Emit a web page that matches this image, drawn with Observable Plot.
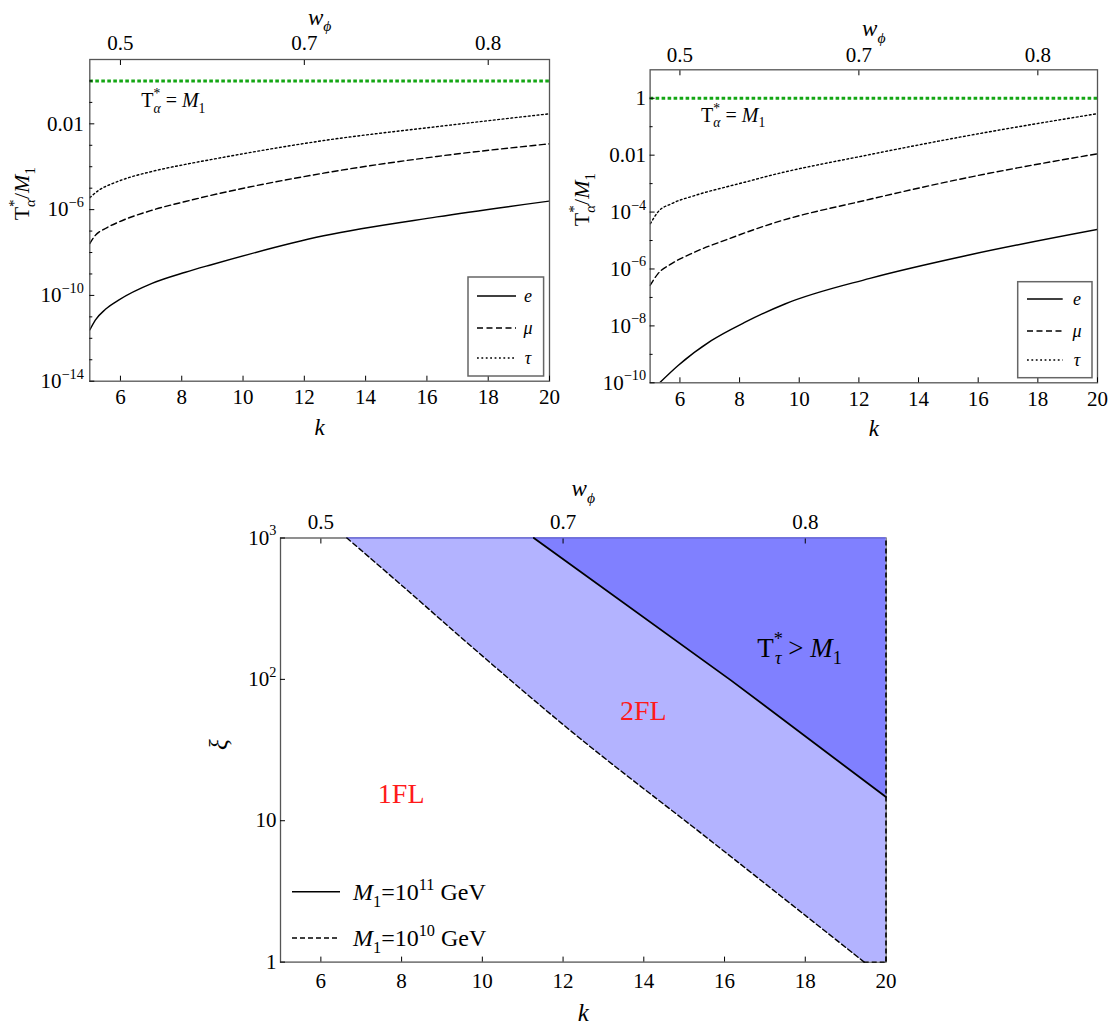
<!DOCTYPE html>
<html><head><meta charset="utf-8">
<script src="https://cdn.jsdelivr.net/npm/d3@7"></script>
<script src="https://cdn.jsdelivr.net/npm/@observablehq/plot@0.6"></script>
<style>
body{margin:0;background:#fff;}
#root{position:relative;width:1115px;height:1028px;overflow:hidden;background:#fff;font-family:"Liberation Serif",serif;}
</style></head><body><div id="root"></div>
<script>
// ---------- data ----------
const kTicks = [6, 8, 10, 12, 14, 16, 18, 20];
const wTickK = [6, 12, 18];
const wTickLabels = ["0.5", "0.7", "0.8"];
const ratioOne = [1];

// top-left panel (T*/M1 vs k)
const tlKTau = [5.0, 5.29, 5.73, 6.16, 7.03, 8.12, 8.94, 12.63, 16.33, 20];
const tlTau  = [3.63e-6, 7.94e-6, 1.62e-5, 2.75e-5, 6.03e-5, 1.29e-4, 2.14e-4, 1.66e-3, 7.41e-3, 2.95e-2];
const tlK    = [5.0, 5.18, 5.51, 5.94, 7.03, 8.12, 8.94, 12.63, 16.33, 20];
const tlMu   = [2.63e-8, 6.31e-8, 1.32e-7, 2.63e-7, 9.33e-7, 2.40e-6, 4.57e-6, 5.01e-5, 3.02e-4, 1.17e-3];
const tlE    = [2.45e-12, 7.08e-12, 2.24e-11, 6.03e-11, 3.63e-10, 1.20e-9, 2.63e-9, 6.03e-8, 4.57e-7, 2.51e-6];
const tlYMajor = [1e-2, 1e-6, 1e-10, 1e-14];
const tlYMajorLabels = ["0.01", "10^−6", "10^−10", "10^−14"];
const tlYMinor = [1, 1e-1, 1e-3, 1e-4, 1e-5, 1e-7, 1e-8, 1e-9, 1e-11, 1e-12, 1e-13];

// top-right panel
const trKTau = [5.01, 5.26, 5.71, 6.49, 7.61, 8.17, 9.01, 12.37, 15.73, 20];
const trTau  = [3.89e-5, 1.0e-4, 1.95e-4, 3.80e-4, 7.94e-4, 1.12e-3, 1.91e-3, 1.05e-2, 5.01e-2, 0.288];
const trKMu  = [5.0, 5.26, 5.71, 6.49, 7.61, 9.1, 12.37, 15.73, 20];
const trMu   = [2.63e-7, 6.76e-7, 1.51e-6, 3.89e-6, 1.12e-5, 3.98e-5, 2.82e-4, 1.70e-3, 1.12e-2];
const trKE   = [5.32, 5.93, 7.05, 8.17, 9.52, 12.37, 15.73, 20];
const trE    = [1.0e-10, 3.98e-10, 3.02e-9, 1.32e-8, 5.89e-8, 4.68e-7, 3.16e-6, 2.45e-5];
const trYMajor = [1, 1e-2, 1e-4, 1e-6, 1e-8, 1e-10];
const trYMajorLabels = ["1", "0.01", "10^−4", "10^−6", "10^−8", "10^−10"];
const trYMinor = [1e-1, 1e-3, 1e-5, 1e-7, 1e-9];

// bottom panel (xi vs k)
const bKDomain = [5, 20];
const bXiDomain = [1, 1000];
const bK10 = [6.645, 8.05, 10.03, 12.43, 15.74, 19.46];   // M1 = 1e10 GeV boundary
const bXi10 = [1000, 450, 144, 38.0, 6.92, 1];
const bK11 = [11.275, 16.16, 20];                          // M1 = 1e11 GeV boundary
const bXi11 = [1000, 98.4, 14.7];
const bYMajor = [1, 10, 100, 1000];
const bYMajorLabels = ["1", "10", "10^2", "10^3"];

// ---------- helpers ----------
const FONT = "Liberation Serif";
const FRAME = "#555";
const GREEN = "#14a614";
const TICKFS = 21;
const STYLE = `font-family: '${FONT}', serif; font-size: ${TICKFS}px; color: black; background: white; overflow: visible;`;
const F = {fontFamily: FONT};

const RICH = {
  "@wphi": {fs: 23, parts: [["w","i"],["ϕ","isub"]]},
  "@ylab": {fs: 22, parts: [["T",""],["*","sup"],["α","isub",-0.34],["/",""],["M","i"],["1","sub"]]},
  "@Teq":  {fs: 20, parts: [["T",""],["*","sup"],["α","isub",-0.34],[" = ",""],["M","i"],["1","sub"]]},
  "@Tgt":  {fs: 27, parts: [["T",""],["*","sup"],["τ","isub",-0.30],[" > ",""],["M","i"],["1","sub"]]},
  "@M11":  {fs: 24, parts: [["M","i"],["1","sub"],["=10",""],["11","sup"],[" GeV",""]]},
  "@M10":  {fs: 24, parts: [["M","i"],["1","sub"],["=10",""],["10","sup"],[" GeV",""]]}
};

function buildRich(node, parts, fs) {
  const sel = d3.select(node);
  sel.text(null);
  let cur = 0;
  for (const [str, kind, back] of parts) {
    let off = 0, size = fs;
    if (kind.includes("sup")) { off = -0.44 * fs; size = 0.68 * fs; }
    if (kind.includes("sub")) { off = 0.28 * fs; size = 0.68 * fs; }
    const ts = sel.append("tspan").text(str).attr("font-size", size).attr("font-family", FONT);
    if (kind.startsWith("i")) ts.attr("font-style", "italic");
    if (off !== cur) { ts.attr("dy", off - cur); cur = off; }
    if (back) ts.attr("dx", back * fs);
  }
}

function richify(svg) {
  d3.select(svg).selectAll("text").each(function() {
    const t = this.textContent;
    const m = /^10\^(.+)$/.exec(t);
    if (m) buildRich(this, [["10",""],[m[1],"sup"]], TICKFS);
    else if (RICH[t]) buildRich(this, RICH[t].parts, RICH[t].fs);
  });
}

const root = document.getElementById("root");
function place(svg, left, top) {
  svg.style.position = "absolute";
  svg.style.left = left + "px";
  svg.style.top = top + "px";
  svg.style.maxWidth = "none";
  svg.style.overflow = "visible";
  root.appendChild(svg);
}

const NOLAB = {label: null, tickFormat: () => ""};
const TL = {...F, fontSize: TICKFS, lineAnchor: "middle"};

// tick marks (inward) + tick labels drawn as text marks
function tickMarks(o) {
  return [
    Plot.axisX({...NOLAB, anchor: "bottom", ticks: kTicks, tickSize: -5}),
    Plot.axisX({...NOLAB, anchor: "top", ticks: wTickK, tickSize: -5}),
    Plot.axisY({...NOLAB, anchor: "left", ticks: o.yMajor, tickSize: -5}),
    ...(o.yMinor ? [Plot.axisY({...NOLAB, anchor: "left", ticks: o.yMinor, tickSize: -3})] : []),
    Plot.text(kTicks, {...TL, x: d => d, frameAnchor: "bottom", dy: o.bdy, text: d => String(d)}),
    Plot.text(wTickK, {...TL, x: d => d, frameAnchor: "top", dy: o.tdy, text: (d, i) => wTickLabels[i]}),
    Plot.text(o.yMajor, {...TL, y: d => d, frameAnchor: "left", dx: o.ldx, textAnchor: "end", text: (d, i) => o.yMajorLabels[i]})
  ];
}

function topPanel(o) {
  const series = [
    {k: o.kE, v: o.e, dash: null},
    {k: o.kMu, v: o.mu, dash: "6,3.5"},
    {k: o.kTau, v: o.tau, dash: "1.8,2.6"}
  ];
  const svg = Plot.plot({
    width: o.width, height: o.height,
    marginLeft: o.ml, marginRight: o.mr, marginTop: o.mt, marginBottom: o.mb,
    x: {domain: [5, 20]},
    y: {type: "log", domain: o.yDomain},
    style: STYLE,
    marks: [
      Plot.ruleY(ratioOne, {stroke: GREEN, strokeWidth: 3, strokeDasharray: "3.6,2.4"}),
      ...series.map(s => Plot.line(s.k.map((k, i) => ({k, v: s.v[i]})), {
        x: "k", y: "v", stroke: "black", strokeWidth: 1.4, strokeDasharray: s.dash, curve: "monotone-x", clip: true
      })),
      Plot.frame({stroke: FRAME, strokeWidth: 1.3}),
      ...tickMarks(o),
      Plot.text([o.teq], {...F, x: "k", y: "v", text: () => "@Teq", textAnchor: "start", lineAnchor: "middle", fontSize: 20}),
      Plot.text(["k"], {...F, frameAnchor: "bottom", dy: 46, text: d => d, fontStyle: "italic", fontSize: 23, lineAnchor: "middle"}),
      Plot.text(["@wphi"], {...F, frameAnchor: "top", dy: o.wdy, text: d => d, fontSize: 23, lineAnchor: "middle"}),
      Plot.text(["@ylab"], {...F, frameAnchor: "left", dx: -68, text: d => d, rotate: -90, fontSize: 22, lineAnchor: "middle"})
    ]
  });
  richify(svg);
  return svg;
}

// top-left
place(topPanel({
  width: 560, height: 450, ml: 89.3, mr: 11, mt: 59, mb: 69.3,
  yDomain: [1e-14, 10],
  kTau: tlKTau, tau: tlTau, kMu: tlK, mu: tlMu, kE: tlK, e: tlE,
  yMajor: tlYMajor, yMajorLabels: tlYMajorLabels, yMinor: tlYMinor,
  bdy: 16.5, tdy: -16, ldx: -6, wdy: -42,
  teq: {k: 6.68, v: 0.12}
}), 0, 0);

// top-right
place(topPanel({
  width: 555, height: 450, ml: 89.6, mr: 18, mt: 69.3, mb: 67.7,
  yDomain: [1e-10, 10],
  kTau: trKTau, tau: trTau, kMu: trKMu, mu: trMu, kE: trKE, e: trE,
  yMajor: trYMajor, yMajorLabels: trYMajorLabels, yMinor: trYMinor,
  bdy: 16.5, tdy: -14.5, ldx: -4, wdy: -41,
  teq: {k: 6.71, v: 0.25}
}), 560, 0);

// bottom
{
  const b10 = bK10.map((k, i) => ({k, xi: bXi10[i]}));
  const b11 = bK11.map((k, i) => ({k, xi: bXi11[i]}));
  const kMax = bKDomain[1];
  const svg = Plot.plot({
    width: 720, height: 558,
    marginLeft: 80, marginRight: 34.5, marginTop: 67.5, marginBottom: 66.4,
    x: {domain: bKDomain},
    y: {type: "log", domain: bXiDomain},
    style: STYLE,
    marks: [
      Plot.frame({stroke: FRAME, strokeWidth: 1.3}),
      Plot.areaX(b10, {y: "xi", x1: "k", x2: () => kMax, fill: "#b3b3ff", curve: "catmull-rom"}),
      Plot.areaX(b11, {y: "xi", x1: "k", x2: () => kMax, fill: "#8080ff"}),
      Plot.ruleY([bXiDomain[1]], {x1: bK10[0], x2: kMax, stroke: "#6a6ad8", strokeWidth: 1.3}),
      Plot.line(b10, {x: "k", y: "xi", stroke: "black", strokeWidth: 1.4, strokeDasharray: "5,3", curve: "catmull-rom"}),
      Plot.ruleY([bXiDomain[0]], {x1: bK10[bK10.length - 1], x2: kMax, stroke: "black", strokeWidth: 1.4, strokeDasharray: "5,3"}),
      Plot.ruleX([kMax], {y1: bXiDomain[0], y2: bXiDomain[1], stroke: "black", strokeWidth: 1.6, strokeDasharray: "5,3"}),
      Plot.line(b11, {x: "k", y: "xi", stroke: "black", strokeWidth: 1.8}),
      ...tickMarks({yMajor: bYMajor, yMajorLabels: bYMajorLabels, bdy: 19.5, tdy: -16, ldx: -4}),
      Plot.text([{k: 17.86, xi: 166}], {...F, x: "k", y: "xi", text: () => "@Tgt", fontSize: 27, lineAnchor: "middle"}),
      Plot.text([{k: 13.99, xi: 60}], {...F, x: "k", y: "xi", text: () => "2FL", fill: "#ff1a1a", fontSize: 28, lineAnchor: "middle"}),
      Plot.text([{k: 7.99, xi: 15.5}], {...F, x: "k", y: "xi", text: () => "1FL", fill: "#ff1a1a", fontSize: 28, lineAnchor: "middle"}),
      Plot.text(["k"], {...F, frameAnchor: "bottom", dy: 51, text: d => d, fontStyle: "italic", fontSize: 25, lineAnchor: "middle"}),
      Plot.text(["@wphi"], {...F, frameAnchor: "top", dy: -49, text: d => d, fontSize: 23, lineAnchor: "middle"}),
      Plot.text(["ξ"], {...F, frameAnchor: "left", dx: -62, text: d => d, rotate: -90, fontSize: 25, fontStyle: "italic", lineAnchor: "middle"})
    ]
  });
  richify(svg);
  place(svg, 200, 470);
}

// ---------- legends (overlay) ----------
const overlay = d3.select(root).append("svg")
  .attr("width", 1115).attr("height", 1028)
  .style("position", "absolute").style("left", 0).style("top", 0)
  .attr("font-family", FONT).style("pointer-events", "none");

const legendNames = ["e", "μ", "τ"];
const legendDash = [null, "6,3.5", "1.8,2.6"];

function boxLegend(x, y, w, h, rowsY, lx0, lx1, tx) {
  overlay.append("rect").attr("x", x).attr("y", y).attr("width", w).attr("height", h)
    .attr("fill", "white").attr("stroke", "#666").attr("stroke-width", 1.5);
  rowsY.forEach((ry, i) => {
    overlay.append("line").attr("x1", lx0).attr("x2", lx1).attr("y1", ry).attr("y2", ry)
      .attr("stroke", "black").attr("stroke-width", 1.4).attr("stroke-dasharray", legendDash[i]);
    overlay.append("text").attr("x", tx).attr("y", ry).attr("dy", "0.32em")
      .attr("text-anchor", "middle").attr("font-style", "italic").attr("font-size", 18)
      .attr("font-family", FONT).text(legendNames[i]);
  });
}
boxLegend(468, 277, 75.6, 99, [296, 328, 358], 477, 516, 528);
boxLegend(1017.7, 281.7, 74.3, 96, [299, 331, 360], 1027, 1062.7, 1077);

[["@M11", null, 891.7], ["@M10", "5,3", 938]].forEach(([key, dash, y]) => {
  overlay.append("line").attr("x1", 292).attr("x2", 340).attr("y1", y).attr("y2", y)
    .attr("stroke", "black").attr("stroke-width", 1.6).attr("stroke-dasharray", dash);
  const t = overlay.append("text").attr("x", 353).attr("y", y).attr("dy", "0.35em").attr("font-size", 24);
  buildRich(t.node(), RICH[key].parts, RICH[key].fs);
});
</script>
</body></html>
